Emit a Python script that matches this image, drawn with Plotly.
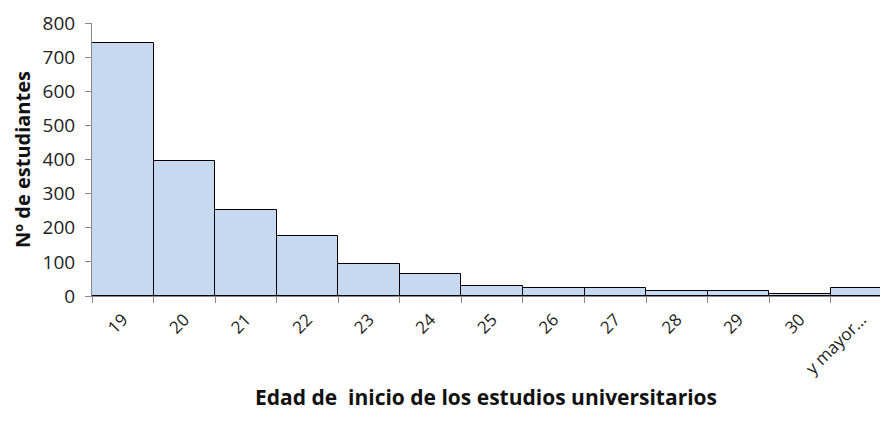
import plotly.graph_objects as go

# Edad de inicio de los estudios universitarios (frecuencias por clase)
edades = ["19", "20", "21", "22", "23", "24", "25", "26", "27", "28", "29", "30", "y mayor..."]
estudiantes = [740, 397, 253, 175, 94, 65, 29, 22, 22, 14, 14, 6, 22]
y_ticks = [0, 100, 200, 300, 400, 500, 600, 700, 800]

FONT = "Open Sans"

fig = go.Figure(
    go.Bar(
        x=edades,
        y=estudiantes,
        width=1.0,
        marker=dict(color="#C6D9F1", line=dict(color="#000000", width=1)),
    )
)

fig.update_layout(
    width=880,
    height=421,
    margin=dict(l=92, r=0, t=23, b=125),
    paper_bgcolor="white",
    plot_bgcolor="white",
    showlegend=False,
    font=dict(family=FONT, color="#222222"),
    bargap=0,
)

fig.update_xaxes(
    type="category",
    range=[-0.5, 12.3],
    tickangle=-45,
    tickson="boundaries",
    ticks="outside",
    ticklen=6,
    tickcolor="#888888",
    ticklabelstandoff=6,
    showline=True,
    linecolor="#888888",
    linewidth=1,
    showgrid=False,
    tickfont=dict(size=17, family=FONT, color="#222222"),
    title=dict(
        text="Edad de  inicio de los estudios universitarios",
        font=dict(size=21, family=FONT, color="#111111", weight="bold"),
        standoff=12,
    ),
)

fig.update_yaxes(
    range=[0, 800],
    tickvals=y_ticks,
    ticks="outside",
    ticklen=6,
    tickcolor="#888888",
    ticklabelstandoff=6,
    showline=True,
    linecolor="#888888",
    linewidth=1,
    showgrid=False,
    zeroline=False,
    tickfont=dict(size=19, family=FONT, color="#222222"),
    title=dict(
        text="Nº de estudiantes",
        font=dict(size=20, family=FONT, color="#111111", weight="bold"),
        standoff=6,
    ),
)

fig.write_html("out.html")
